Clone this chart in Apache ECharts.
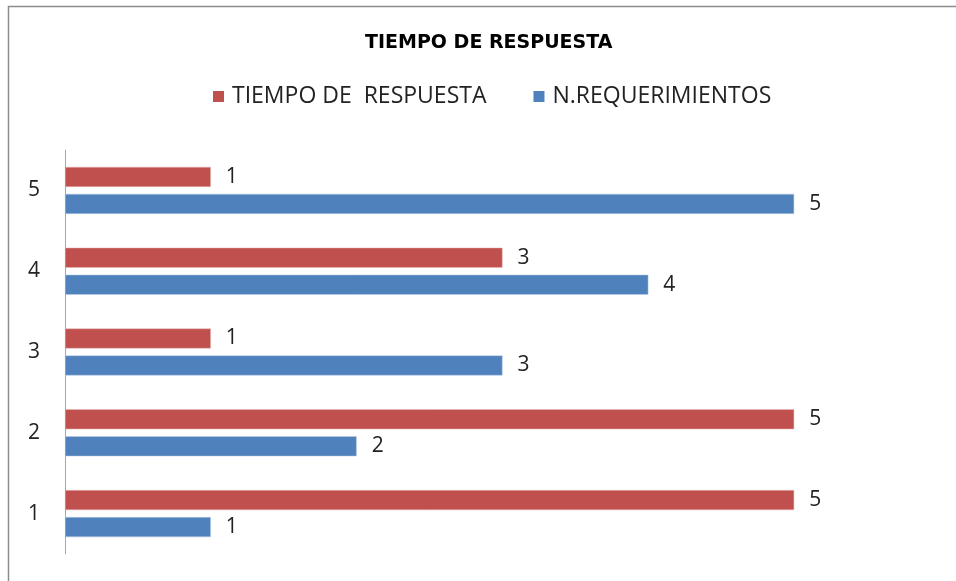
<!DOCTYPE html>
<html>
<head>
<meta charset="utf-8">
<script src="https://cdn.jsdelivr.net/npm/echarts@6/dist/echarts.min.js"></script>
<style>html,body{margin:0;padding:0;background:#fff}#c{width:956px;height:581px}</style>
</head>
<body>
<div id="c"></div>
<script>
const categories = ['1', '2', '3', '4', '5'];
const tiempoRespuesta = [5, 5, 1, 3, 1];
const nRequerimientos = [1, 2, 3, 4, 5];
const seriesNames = ['TIEMPO DE  RESPUESTA', 'N.REQUERIMIENTOS'];
const titleText = 'TIEMPO DE RESPUESTA';

const chart = echarts.init(document.getElementById('c'), null, {renderer: 'canvas'});
const labelStyle = {show: true, position: 'right', distance: 15, fontSize: 21, color: '#222', fontFamily: 'Open Sans, sans-serif'};
chart.setOption({
  animation: false,
  backgroundColor: '#fff',
  graphic: [{
    type: 'rect', shape: {x: 8.5, y: 6.5, width: 1000, height: 700},
    style: {fill: 'none', stroke: '#8c8c8c', lineWidth: 1.5}, silent: true, z: -1
  }],
  title: {
    text: titleText, left: 360, top: 29,
    textStyle: {fontFamily: 'DejaVu Sans, sans-serif', fontWeight: 'bold', fontSize: 19, color: '#000'}
  },
  legend: {
    data: seriesNames, top: 80, left: 208, itemWidth: 11, itemHeight: 11, itemGap: 47,
    icon: 'rect', itemStyle: {borderWidth: 0},
    textStyle: {fontSize: 23, color: '#222', fontFamily: 'Open Sans, sans-serif', padding: [0, 0, 0, 3]}
  },
  grid: {left: 65, right: 16, top: 150, bottom: 27, containLabel: false},
  xAxis: {type: 'value', min: 0, max: 6, show: false, splitLine: {show: false}},
  yAxis: {
    type: 'category', data: categories,
    axisLine: {show: true, lineStyle: {color: '#a6a6a6', width: 1}},
    axisTick: {show: false},
    axisLabel: {fontSize: 21, color: '#222', margin: 25, fontFamily: 'Open Sans, sans-serif'}
  },
  series: [
    {name: seriesNames[0], type: 'bar', data: tiempoRespuesta, barWidth: 20, barGap: '35%',
     itemStyle: {color: '#C0504D', borderColor: '#e6b9b8', borderWidth: 0.5}, label: labelStyle},
    {name: seriesNames[1], type: 'bar', data: nRequerimientos, barWidth: 20, barGap: '35%',
     itemStyle: {color: '#4F81BD', borderColor: '#b9cde5', borderWidth: 0.5}, label: labelStyle}
  ]
});
</script>
</body>
</html>
